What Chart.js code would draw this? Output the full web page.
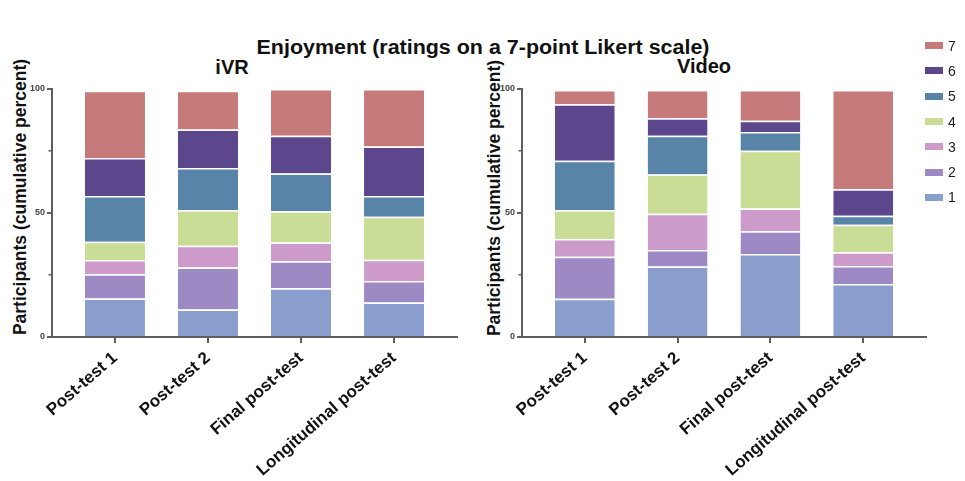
<!DOCTYPE html>
<html>
<head>
<meta charset="utf-8">
<script src="https://cdn.jsdelivr.net/npm/chart.js@4.4.1/dist/chart.umd.min.js"></script>
<style>
  body { margin: 0; background: #fff; font-family: "Liberation Sans", Arial, sans-serif; }
  #wrap { position: relative; width: 965px; height: 481px; overflow: hidden; }
  canvas { position: absolute; top: 0; }
  .t { position: absolute; font-weight: bold; color: #111; white-space: nowrap; transform: translate(-50%, -50%); }
  .ytitle { position: absolute; font-weight: bold; font-size: 17.5px; color: #111; white-space: nowrap;
            transform: translate(-50%, -50%) rotate(-90deg); }
  #legend { position: absolute; left: 925px; top: 33px; }
  .row { height: 25.3px; display: flex; align-items: center; font-size: 14px; color: #222; }
  .box { width: 18px; height: 7px; margin-right: 5px; }
</style>
</head>
<body>
<div id="wrap">
  <div class="t" style="left:483px; top:47px; font-size:19.5px; transform:translate(-50%, -50%) scaleX(1.1);">Enjoyment (ratings on a 7-point Likert scale)</div>
  <div class="t" style="left:232px; top:67px; font-size:20px;">iVR</div>
  <div class="t" style="left:704px; top:66px; font-size:20px;">Video</div>
  <div class="ytitle" style="left:19.5px; top:197px;">Participants (cumulative percent)</div>
  <div class="ytitle" style="left:494px; top:198px;">Participants (cumulative percent)</div>
  <canvas id="ivr" width="470" height="481" style="left:0px;"></canvas>
  <canvas id="video" width="495" height="481" style="left:470px;"></canvas>
  <div id="legend"></div>
</div>
<script>
// categories and rating levels
const categories = ['Post-test 1', 'Post-test 2', 'Final post-test', 'Longitudinal post-test'];
const ratings = ['1', '2', '3', '4', '5', '6', '7'];
const colors = ['#899ecd', '#9d89c4', '#cc9bc9', '#c9dd96', '#5784a7', '#5c478d', '#c67b7a'];
const yMajor = [0, 50, 100];
const yMinor = [25, 75];

// iVR, percent of participants per rating
const ivr1 = [15.5, 11.1, 19.7, 13.9];
const ivr2 = [9.8, 16.9, 10.8, 8.7];
const ivr3 = [5.7, 8.8, 7.6, 8.5];
const ivr4 = [7.4, 14.3, 12.6, 17.4];
const ivr5 = [18.5, 17.0, 15.2, 8.4];
const ivr6 = [15.3, 15.6, 15.2, 19.9];
const ivr7 = [27.1, 15.6, 18.9, 23.2];

// Video
const vid1 = [15.4, 28.4, 33.5, 21.4];
const vid2 = [17.0, 6.7, 9.1, 7.2];
const vid3 = [7.1, 14.6, 9.2, 5.6];
const vid4 = [11.6, 15.8, 23.3, 11.1];
const vid5 = [20.0, 15.6, 7.6, 3.6];
const vid6 = [22.8, 7.1, 4.5, 10.7];
const vid7 = [5.7, 11.4, 12.4, 40.0];

const axisColor = '#5e5e5e';

function makeChart(id, rows, padRight) {
    const datasets = rows.map((vals, r) => ({
        label: ratings[r],
        data: vals.map((v, i) => ({ x: i + 1, y: v })),
        backgroundColor: colors[r],
        borderColor: 'rgba(255,255,255,0.95)',
        borderWidth: { top: 1.5, left: 0, right: 0, bottom: 0 },
        borderSkipped: false,
        barPercentage: 0.645,
        categoryPercentage: 1
    }));
    return new Chart(document.getElementById(id), {
        type: 'bar',
        data: { datasets: datasets },
        options: {
            responsive: false,
            animation: false,
            layout: { padding: { top: 89, right: padRight, bottom: 0, left: 0 } },
            plugins: { legend: { display: false }, tooltip: { enabled: false } },
            scales: {
                x: {
                    type: 'linear',
                    stacked: true,
                    offset: false,
                    min: 0.323,
                    max: 4.677,
                    afterBuildTicks: (s) => { s.ticks = categories.map((c, i) => ({ value: i + 1 })); },
                    afterFit: (s) => { s.height = 144; },
                    ticks: {
                        autoSkip: false,
                        minRotation: 41,
                        maxRotation: 41,
                        padding: 5,
                        color: '#111',
                        font: { family: 'Liberation Sans', size: 17, weight: 'bold' },
                        callback: (v) => categories[v - 1]
                    },
                    grid: { offset: false, drawOnChartArea: false, color: axisColor, lineWidth: 2, tickLength: 6 },
                    border: { color: axisColor, width: 2 }
                },
                y: {
                    stacked: true,
                    min: 0,
                    max: 100,
                    weight: 1,
                    afterBuildTicks: (s) => { s.ticks = yMajor.map((v) => ({ value: v })); },
                    afterFit: (s) => { s.width = 52; },
                    ticks: {
                        padding: 2,
                        color: '#444',
                        font: { family: 'Liberation Sans', size: 9, weight: 'bold' }
                    },
                    grid: { drawOnChartArea: false, color: axisColor, lineWidth: 2, tickLength: 5 },
                    border: { color: axisColor, width: 2 }
                },
                y2: {
                    position: 'left',
                    min: 0,
                    max: 100,
                    weight: 0,
                    afterBuildTicks: (s) => { s.ticks = yMinor.map((v) => ({ value: v })); },
                    afterFit: (s) => { s.width = 0; },
                    ticks: { display: false },
                    grid: { drawOnChartArea: false, color: axisColor, lineWidth: 1.5, tickLength: 3.5 },
                    border: { display: false }
                }
            }
        }
    });
}

makeChart('ivr', [ivr1, ivr2, ivr3, ivr4, ivr5, ivr6, ivr7], 13);
makeChart('video', [vid1, vid2, vid3, vid4, vid5, vid6, vid7], 39);

// legend, 7 on top down to 1
const legend = document.getElementById('legend');
for (let r = ratings.length - 1; r >= 0; r--) {
    const row = document.createElement('div');
    row.className = 'row';
    row.innerHTML = '<span class="box" style="background:' + colors[r] + '"></span>' + ratings[r];
    legend.appendChild(row);
}
</script>
</body>
</html>
